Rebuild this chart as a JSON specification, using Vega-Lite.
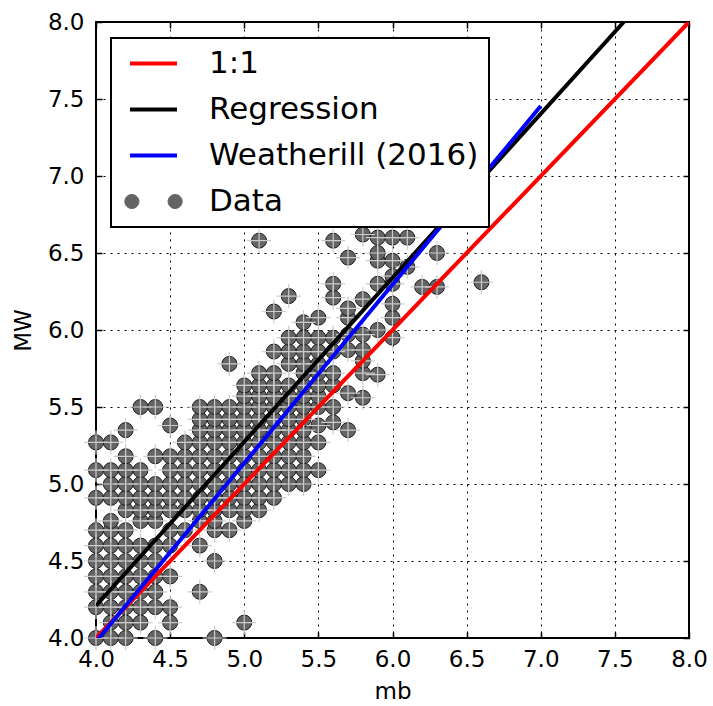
{
"$schema": "https://vega.github.io/schema/vega-lite/v6.json",
"width": 593, "height": 616,
"autosize": {"type": "none"},
"padding": {"left": 96, "top": 22, "right": 24, "bottom": 68},
"background": "white",
"config": {"font": "DejaVu Sans", "view": {"stroke": "black", "strokeWidth": 2}},
"datasets": {
"pts": [
{"mb":4.0,"MW":4.0},{"mb":4.1,"MW":4.0},{"mb":4.2,"MW":4.0},{"mb":4.4,"MW":4.0},{"mb":4.8,"MW":4.0},
{"mb":4.1,"MW":4.1},{"mb":4.2,"MW":4.1},{"mb":4.3,"MW":4.1},{"mb":4.5,"MW":4.1},{"mb":5.0,"MW":4.1},
{"mb":4.0,"MW":4.2},{"mb":4.1,"MW":4.2},{"mb":4.2,"MW":4.2},{"mb":4.3,"MW":4.2},{"mb":4.4,"MW":4.2},{"mb":4.5,"MW":4.2},
{"mb":4.0,"MW":4.3},{"mb":4.1,"MW":4.3},{"mb":4.2,"MW":4.3},{"mb":4.3,"MW":4.3},{"mb":4.4,"MW":4.3},{"mb":4.7,"MW":4.3},
{"mb":4.0,"MW":4.4},{"mb":4.1,"MW":4.4},{"mb":4.2,"MW":4.4},{"mb":4.3,"MW":4.4},{"mb":4.4,"MW":4.4},{"mb":4.5,"MW":4.4},
{"mb":4.0,"MW":4.5},{"mb":4.1,"MW":4.5},{"mb":4.2,"MW":4.5},{"mb":4.3,"MW":4.5},{"mb":4.4,"MW":4.5},{"mb":4.8,"MW":4.5},
{"mb":4.0,"MW":4.6},{"mb":4.1,"MW":4.6},{"mb":4.2,"MW":4.6},{"mb":4.3,"MW":4.6},{"mb":4.4,"MW":4.6},{"mb":4.5,"MW":4.6},{"mb":4.7,"MW":4.6},
{"mb":4.0,"MW":4.7},{"mb":4.1,"MW":4.7},{"mb":4.2,"MW":4.7},{"mb":4.5,"MW":4.7},{"mb":4.6,"MW":4.7},{"mb":4.8,"MW":4.7},{"mb":4.9,"MW":4.7},
{"mb":4.1,"MW":4.76},{"mb":4.3,"MW":4.76},{"mb":4.4,"MW":4.76},{"mb":4.7,"MW":4.76},{"mb":4.8,"MW":4.76},{"mb":5.0,"MW":4.76},
{"mb":4.2,"MW":4.83},{"mb":4.3,"MW":4.83},{"mb":4.4,"MW":4.83},{"mb":4.5,"MW":4.83},{"mb":4.6,"MW":4.83},{"mb":4.7,"MW":4.83},{"mb":4.8,"MW":4.83},{"mb":4.9,"MW":4.83},{"mb":5.0,"MW":4.83},{"mb":5.1,"MW":4.83},
{"mb":4.0,"MW":4.91},{"mb":4.1,"MW":4.91},{"mb":4.2,"MW":4.91},{"mb":4.3,"MW":4.91},{"mb":4.4,"MW":4.91},{"mb":4.5,"MW":4.91},{"mb":4.6,"MW":4.91},{"mb":4.7,"MW":4.91},{"mb":4.8,"MW":4.91},{"mb":4.9,"MW":4.91},{"mb":5.0,"MW":4.91},{"mb":5.1,"MW":4.91},{"mb":5.2,"MW":4.91},
{"mb":4.1,"MW":5.0},{"mb":4.2,"MW":5.0},{"mb":4.3,"MW":5.0},{"mb":4.4,"MW":5.0},{"mb":4.5,"MW":5.0},{"mb":4.6,"MW":5.0},{"mb":4.7,"MW":5.0},{"mb":4.8,"MW":5.0},{"mb":4.9,"MW":5.0},{"mb":5.0,"MW":5.0},{"mb":5.1,"MW":5.0},{"mb":5.2,"MW":5.0},{"mb":5.3,"MW":5.0},{"mb":5.4,"MW":5.0},
{"mb":4.0,"MW":5.09},{"mb":4.1,"MW":5.09},{"mb":4.2,"MW":5.09},{"mb":4.3,"MW":5.09},{"mb":4.5,"MW":5.09},{"mb":4.6,"MW":5.09},{"mb":4.7,"MW":5.09},{"mb":4.8,"MW":5.09},{"mb":4.9,"MW":5.09},{"mb":5.0,"MW":5.09},{"mb":5.1,"MW":5.09},{"mb":5.2,"MW":5.09},{"mb":5.3,"MW":5.09},{"mb":5.4,"MW":5.09},{"mb":5.5,"MW":5.09},
{"mb":4.2,"MW":5.18},{"mb":4.4,"MW":5.18},{"mb":4.5,"MW":5.18},{"mb":4.6,"MW":5.18},{"mb":4.7,"MW":5.18},{"mb":4.8,"MW":5.18},{"mb":4.9,"MW":5.18},{"mb":5.0,"MW":5.18},{"mb":5.1,"MW":5.18},{"mb":5.2,"MW":5.18},{"mb":5.3,"MW":5.18},{"mb":5.4,"MW":5.18},
{"mb":4.0,"MW":5.27},{"mb":4.1,"MW":5.27},{"mb":4.6,"MW":5.27},{"mb":4.7,"MW":5.27},{"mb":4.8,"MW":5.27},{"mb":4.9,"MW":5.27},{"mb":5.0,"MW":5.27},{"mb":5.1,"MW":5.27},{"mb":5.2,"MW":5.27},{"mb":5.3,"MW":5.27},{"mb":5.4,"MW":5.27},{"mb":5.5,"MW":5.27},
{"mb":4.2,"MW":5.35},{"mb":4.5,"MW":5.38},{"mb":4.7,"MW":5.35},{"mb":4.8,"MW":5.35},{"mb":4.9,"MW":5.35},{"mb":5.0,"MW":5.35},{"mb":5.1,"MW":5.35},{"mb":5.2,"MW":5.35},{"mb":5.3,"MW":5.35},{"mb":5.4,"MW":5.35},{"mb":5.5,"MW":5.38},{"mb":5.7,"MW":5.35},
{"mb":4.7,"MW":5.42},{"mb":4.8,"MW":5.42},{"mb":4.9,"MW":5.42},{"mb":5.0,"MW":5.42},{"mb":5.1,"MW":5.42},{"mb":5.2,"MW":5.42},{"mb":5.3,"MW":5.42},{"mb":5.4,"MW":5.42},{"mb":5.6,"MW":5.4},
{"mb":4.3,"MW":5.5},{"mb":4.4,"MW":5.5},{"mb":4.7,"MW":5.5},{"mb":4.8,"MW":5.5},{"mb":4.9,"MW":5.5},{"mb":5.0,"MW":5.5},{"mb":5.1,"MW":5.5},{"mb":5.2,"MW":5.5},{"mb":5.3,"MW":5.5},{"mb":5.4,"MW":5.5},{"mb":5.5,"MW":5.5},{"mb":5.6,"MW":5.5},
{"mb":5.0,"MW":5.57},{"mb":5.1,"MW":5.57},{"mb":5.2,"MW":5.57},{"mb":5.3,"MW":5.57},{"mb":5.4,"MW":5.57},{"mb":5.5,"MW":5.57},{"mb":5.7,"MW":5.59},{"mb":5.8,"MW":5.56},
{"mb":5.0,"MW":5.64},{"mb":5.1,"MW":5.64},{"mb":5.2,"MW":5.64},{"mb":5.3,"MW":5.64},{"mb":5.4,"MW":5.64},{"mb":5.5,"MW":5.64},{"mb":5.6,"MW":5.64},
{"mb":5.1,"MW":5.72},{"mb":5.2,"MW":5.72},{"mb":5.4,"MW":5.72},{"mb":5.5,"MW":5.72},{"mb":5.6,"MW":5.72},{"mb":5.8,"MW":5.72},{"mb":5.9,"MW":5.71},
{"mb":4.9,"MW":5.78},{"mb":5.3,"MW":5.78},{"mb":5.4,"MW":5.78},{"mb":5.5,"MW":5.78},{"mb":5.8,"MW":5.8},
{"mb":5.2,"MW":5.86},{"mb":5.3,"MW":5.86},{"mb":5.4,"MW":5.86},{"mb":5.5,"MW":5.86},{"mb":5.6,"MW":5.86},{"mb":5.7,"MW":5.87},{"mb":5.8,"MW":5.87},
{"mb":5.3,"MW":5.95},{"mb":5.4,"MW":5.95},{"mb":5.5,"MW":5.95},{"mb":5.6,"MW":5.95},{"mb":5.7,"MW":5.97},{"mb":5.8,"MW":5.97},{"mb":6.0,"MW":5.95},
{"mb":5.9,"MW":6.0},
{"mb":5.4,"MW":6.05},
{"mb":5.5,"MW":6.08},{"mb":5.7,"MW":6.08},{"mb":6.0,"MW":6.08},
{"mb":5.2,"MW":6.12},{"mb":5.7,"MW":6.14},{"mb":5.8,"MW":6.2},{"mb":6.0,"MW":6.17},
{"mb":5.3,"MW":6.22},{"mb":5.6,"MW":6.21},
{"mb":5.6,"MW":6.3},{"mb":5.9,"MW":6.3},{"mb":6.0,"MW":6.3},{"mb":6.2,"MW":6.28},{"mb":6.3,"MW":6.28},{"mb":6.6,"MW":6.31},
{"mb":6.0,"MW":6.35},
{"mb":5.9,"MW":6.45},{"mb":6.0,"MW":6.45},{"mb":6.1,"MW":6.41},
{"mb":5.7,"MW":6.47},{"mb":5.9,"MW":6.5},{"mb":6.3,"MW":6.5},
{"mb":5.1,"MW":6.58},{"mb":5.6,"MW":6.58},{"mb":5.8,"MW":6.62},{"mb":5.9,"MW":6.6},{"mb":6.0,"MW":6.6},{"mb":6.1,"MW":6.6}
],
"lines": [
{"series":"1:1","mb":4,"MW":4},{"series":"1:1","mb":8,"MW":8},
{"series":"Regression","mb":4,"MW":4.21},{"series":"Regression","mb":7.56,"MW":8.0},
{"series":"Weatherill (2016)","mb":4,"MW":3.977},{"series":"Weatherill (2016)","mb":7,"MW":7.454}
]
},
"resolve": {"axis": {"x": "independent", "y": "independent"}},
"layer": [
{"data": {"name": "pts"},
 "mark": {"type": "circle", "size": 225, "fill": "#646464", "stroke": "#1e1e1e", "strokeWidth": 1, "opacity": 1},
 "encoding": {
  "x": {"field": "mb", "type": "quantitative", "scale": {"domain": [4, 8], "nice": false, "zero": false},
   "axis": {"orient": "bottom", "values": [4,4.5,5,5.5,6,6.5,7,7.5,8], "format": ".1f", "title": "mb", "grid": true, "gridColor": "black", "gridDash": [2,5], "gridWidth": 1, "gridOpacity": 1, "tickSize": -6, "tickColor": "black", "tickWidth": 1.5, "domain": false, "labelFontSize": 23, "labelColor": "black", "labelPadding": 16, "labelFlush": false, "labelOverlap": false, "titleFont": "DejaVu Sans", "titleFontSize": 23, "titleFontWeight": "normal", "titleColor": "black", "titlePadding": 9}},
  "y": {"field": "MW", "type": "quantitative", "scale": {"domain": [4, 8], "nice": false, "zero": false},
   "axis": {"orient": "left", "values": [4,4.5,5,5.5,6,6.5,7,7.5,8], "format": ".1f", "title": "MW", "grid": true, "gridColor": "black", "gridDash": [2,5], "gridWidth": 1, "gridOpacity": 1, "tickSize": -6, "tickColor": "black", "tickWidth": 1.5, "domain": false, "labelFontSize": 23, "labelColor": "black", "labelPadding": 18, "labelFlush": false, "labelOverlap": false, "titleFont": "DejaVu Sans", "titleFontSize": 23, "titleFontWeight": "normal", "titleColor": "black", "titlePadding": 12}}
 }},
{"data": {"name": "pts"},
 "mark": {"type": "point", "shape": "M-1,0L1,0M0,-1L0,1", "filled": false, "stroke": "#cccccc", "strokeWidth": 1.2, "size": 576, "opacity": 1},
 "encoding": {
  "x": {"field": "mb", "type": "quantitative", "axis": null},
  "y": {"field": "MW", "type": "quantitative", "axis": null}
 }},
{"data": {"name": "lines"},
 "transform": [{"filter": "datum.series === '1:1'"}],
 "mark": {"type": "line", "strokeWidth": 4, "clip": true},
 "encoding": {
  "x": {"field": "mb", "type": "quantitative", "axis": {"orient": "top", "values": [4,4.5,5,5.5,6,6.5,7,7.5,8], "labels": false, "grid": false, "title": null, "tickSize": -6, "tickColor": "black", "tickWidth": 1.5, "domain": false}},
  "y": {"field": "MW", "type": "quantitative", "axis": {"orient": "right", "values": [4,4.5,5,5.5,6,6.5,7,7.5,8], "labels": false, "grid": false, "title": null, "tickSize": -6, "tickColor": "black", "tickWidth": 1.5, "domain": false}},
  "color": {"field": "series", "type": "nominal",
   "scale": {"domain": ["1:1", "Regression", "Weatherill (2016)", "Data"], "range": ["#ff0000", "#000000", "#0000ff", "#666666"]},
   "legend": {"orient": "none", "legendX": 15, "legendY": 16, "title": null, "symbolType": "stroke", "symbolSize": 2209, "symbolStrokeWidth": 4, "symbolOffset": 17, "labelFontSize": 31, "labelFont": "DejaVu Sans", "labelColor": "black", "labelOffset": 40, "labelLimit": 0, "rowPadding": 14, "padding": 10, "strokeColor": "black", "fillColor": "white",
    "encode": {
     "symbols": {"update": {
      "shape": {"signal": "datum.value === 'Data' ? 'M-0.62,0A0.3,0.3,0,1,0,-1.22,0A0.3,0.3,0,1,0,-0.62,0ZM1.22,0A0.3,0.3,0,1,0,0.62,0A0.3,0.3,0,1,0,1.22,0Z' : 'stroke'"},
      "fill": {"signal": "datum.value === 'Data' ? '#646464' : 'transparent'"},
      "stroke": {"signal": "datum.value === 'Data' ? '#1e1e1e' : datum.value === '1:1' ? '#ff0000' : datum.value === 'Regression' ? '#000000' : '#0000ff'"},
      "strokeWidth": {"signal": "datum.value === 'Data' ? 1 : 4"},
      "opacity": {"value": 1}
     }},
     "legend": {"update": {"strokeWidth": {"value": 2}}}
    }}
  }
 }},
{"data": {"name": "lines"},
 "transform": [{"filter": "datum.series === 'Regression'"}],
 "mark": {"type": "line", "strokeWidth": 4, "clip": true},
 "encoding": {
  "x": {"field": "mb", "type": "quantitative", "axis": null},
  "y": {"field": "MW", "type": "quantitative", "axis": null},
  "color": {"field": "series", "type": "nominal"}
 }},
{"data": {"name": "lines"},
 "transform": [{"filter": "datum.series === 'Weatherill (2016)'"}],
 "mark": {"type": "line", "strokeWidth": 4, "clip": true},
 "encoding": {
  "x": {"field": "mb", "type": "quantitative", "axis": null},
  "y": {"field": "MW", "type": "quantitative", "axis": null},
  "color": {"field": "series", "type": "nominal"}
 }}
]
}
